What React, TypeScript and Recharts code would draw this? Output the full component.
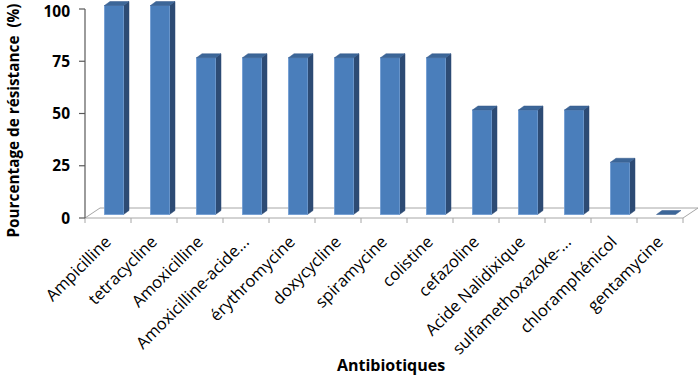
import React from 'react';
import { Bar, BarChart, CartesianGrid, XAxis, YAxis, Label } from 'recharts';

const antibiotics = [
  'Ampicilline',
  'tetracycline',
  'Amoxicilline',
  'Amoxicilline-acide...',
  'érythromycine',
  'doxycycline',
  'spiramycine',
  'colistine',
  'cefazoline',
  'Acide Nalidixique',
  'sulfamethoxazoke-...',
  'chloramphénicol',
  'gentamycine',
];
const resistance = [100, 100, 75, 75, 75, 75, 75, 75, 50, 50, 50, 25, 0];
const yTicks = [0, 25, 50, 75, 100];

const data = antibiotics.map((name, i) => ({ name, value: resistance[i] }));

const FONT = '"Open Sans", sans-serif';

// depth of the floor and of each bar (oblique projection)
const FLOOR_DX = 15;
const FLOOR_DY = -10;
const BAR_SHIFT_X = 5.5;
const BAR_SHIFT_Y = -3.5;
const BAR_DX = 5.5;
const BAR_DY = -4;

const Bar3D = (props: any) => {
  const { x, y, width, height } = props;
  const fx = x + BAR_SHIFT_X;
  const fy = y + BAR_SHIFT_Y;
  const top = `M${fx},${fy} L${fx + BAR_DX},${fy + BAR_DY} L${fx + width + BAR_DX},${fy + BAR_DY} L${fx + width},${fy} Z`;
  const side = `M${fx + width},${fy} L${fx + width + BAR_DX},${fy + BAR_DY} L${fx + width + BAR_DX},${fy + height + BAR_DY} L${fx + width},${fy + height} Z`;
  return (
    <g>
      {height > 0 && <path d={side} fill="#2d4b74" stroke="#2d4b74" strokeWidth={0.5} />}
      {height > 0 && (
        <rect x={fx} y={fy} width={width} height={height} fill="#4a7ebb" stroke="#6e9bd2" strokeWidth={0.8} />
      )}
      <path d={top} fill="#3c6698" stroke="#35598a" strokeWidth={0.5} />
    </g>
  );
};

const Floor = (props: any) => {
  const { x, y, width, height, index } = props;
  if (index !== 0) return <g key={`floor-${index}`} />;
  const yb = y + height;
  const step = width / antibiotics.length;
  const ticks = Array.from({ length: antibiotics.length + 1 }, (_, i) => x + i * step);
  return (
    <g key="floor">
      <path
        d={`M${x},${yb} L${x + width},${yb} L${x + width + FLOOR_DX},${yb + FLOOR_DY} L${x + FLOOR_DX},${yb + FLOOR_DY} Z`}
        fill="#ffffff"
        stroke="#a6a6a6"
        strokeWidth={1}
      />
      {ticks.map((tx, i) => (
        <line key={i} x1={tx} y1={yb} x2={tx} y2={yb + 5} stroke="#a6a6a6" strokeWidth={1} />
      ))}
    </g>
  );
};

const XTick = (props: any) => {
  const { x, y, payload } = props;
  return (
    <g transform={`translate(${x + 4},${y + 23})`}>
      <text
        x={0}
        y={0}
        textAnchor="end"
        transform="rotate(-45)"
        fontFamily={FONT}
        fontSize={16.5}
        fill="#000"
      >
        {payload.value}
      </text>
    </g>
  );
};

const YTick = (props: any) => {
  const { x, y, payload } = props;
  // keep the top label inside the picture
  const shift = payload.value === yTicks[yTicks.length - 1] ? 2 : 0;
  return (
    <text
      x={x}
      y={y + shift}
      dy="0.355em"
      textAnchor="end"
      fontFamily={FONT}
      fontSize={15.5}
      fontWeight="bold"
      fill="#000"
    >
      {payload.value}
    </text>
  );
};

const YTitle = (props: any) => {
  const { viewBox } = props;
  const cx = 13;
  const cy = viewBox.y + viewBox.height / 2 + 7;
  return (
    <text
      x={cx}
      y={cy}
      textAnchor="middle"
      dominantBaseline="central"
      transform={`rotate(-90, ${cx}, ${cy})`}
      fontFamily={FONT}
      fontSize={15.3}
      fontWeight="bold"
      fill="#000"
      style={{ whiteSpace: 'pre' }}
    >
      {'Pourcentage de résistance  (%)'}
    </text>
  );
};

export default function App() {
  return (
    <div style={{ position: 'absolute', left: 0, top: 0, width: 700, height: 376, background: '#fff' }}>
      <BarChart
        width={700}
        height={376}
        data={data}
        margin={{ top: 9, right: 17, left: 0, bottom: 0 }}
        barSize={19}
      >
        <CartesianGrid vertical={false} horizontal={Floor} />
        <XAxis
          dataKey="name"
          interval={0}
          height={158}
          axisLine={false}
          tickLine={false}
          tickSize={0}
          tick={<XTick />}
        >
          <Label
            value="Antibiotiques"
            position="insideBottom"
            offset={5}
            dx={7}
            style={{ fontFamily: FONT, fontSize: 16, fontWeight: 'bold', fill: '#000' }}
          />
        </XAxis>
        <YAxis
          width={85}
          domain={[0, 100]}
          ticks={yTicks}
          interval={0}
          axisLine={{ stroke: '#595959', strokeWidth: 1.2 }}
          tickLine={{ stroke: '#595959', strokeWidth: 1.2 }}
          tickSize={6}
          tickMargin={9}
          tick={<YTick />}
        >
          <Label content={<YTitle />} />
        </YAxis>
        <Bar dataKey="value" shape={<Bar3D />} isAnimationActive={false} />
      </BarChart>
    </div>
  );
}
